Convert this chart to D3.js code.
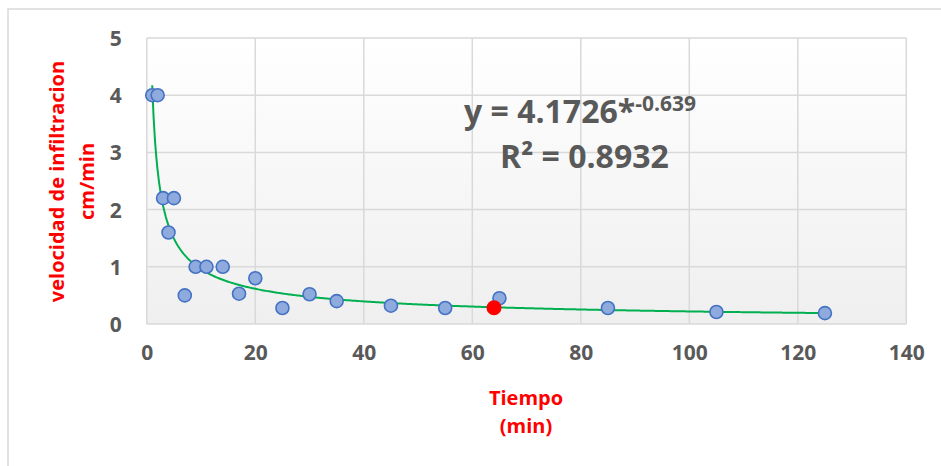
<!DOCTYPE html>
<html>
<head>
<meta charset="utf-8">
<script src="https://cdn.jsdelivr.net/npm/d3@7"></script>
<style>
  body { margin: 0; background: #fff; }
  svg text { font-family: "Open Sans", sans-serif; font-weight: bold; }
</style>
</head>
<body>
<svg id="chart" width="941" height="466"></svg>
<script>
// measured points (tiempo in min, velocidad in cm/min)
var tiempo = [1, 2, 3, 4, 5, 7, 9, 11, 14, 17, 20, 25, 30, 35, 45, 55, 65, 85, 105, 125];
var velocidad = [4, 4, 2.2, 1.6, 2.2, 0.5, 1, 1, 1, 0.53, 0.8, 0.28, 0.52, 0.4, 0.32, 0.28, 0.45, 0.28, 0.21, 0.19];
// highlighted point
var puntoRojo = [64, 0.285];
// potential trendline shown on the chart
var coefA = 4.1726, coefB = -0.639, trendRange = [1, 125];
var xTicks = [0, 20, 40, 60, 80, 100, 120, 140];
var yTicks = [0, 1, 2, 3, 4, 5];

(function () {
    "use strict";
    var svg = d3.select("#chart"),
        x = d3.scaleLinear().domain([0, 140]).range([146.8, 906.3]),
        y = d3.scaleLinear().domain([0, 5]).range([324, 38]),
        grey = "#595959",
        gridCol = "#d9d9d9";

    // outer chart frame (cut off at right/bottom like the picture)
    svg.append("rect")
        .attr("x", 8).attr("y", 9).attr("width", 1000).attr("height", 600)
        .attr("fill", "none").attr("stroke", gridCol).attr("stroke-width", 1.5);

    // plot area background gradient
    var grad = svg.append("defs").append("linearGradient")
        .attr("id", "bg").attr("x1", 0).attr("y1", 0).attr("x2", 0).attr("y2", 1);
    grad.append("stop").attr("offset", "0%").attr("stop-color", "#ffffff");
    grad.append("stop").attr("offset", "100%").attr("stop-color", "#efefef");

    svg.append("rect")
        .attr("x", x(0)).attr("y", y(5))
        .attr("width", x(140) - x(0)).attr("height", y(0) - y(5))
        .attr("fill", "url(#bg)");

    //grid lines
    svg.append("g").selectAll("line").data(xTicks).enter().append("line")
        .attr("x1", function (d) { return x(d); })
        .attr("x2", function (d) { return x(d); })
        .attr("y1", y(0)).attr("y2", y(5))
        .attr("stroke", gridCol).attr("stroke-width", 1.5);
    svg.append("g").selectAll("line").data(yTicks).enter().append("line")
        .attr("y1", function (d) { return y(d); })
        .attr("y2", function (d) { return y(d); })
        .attr("x1", x(0)).attr("x2", x(140))
        .attr("stroke", gridCol).attr("stroke-width", 1.5);

    // axes with d3 axis, lines hidden
    var xAxis = svg.append("g")
        .attr("transform", "translate(0," + (y(0) + 20) + ")")
        .call(d3.axisBottom(x).tickValues(xTicks).tickFormat(d3.format("d")).tickSize(0).tickPadding(0));
    var yAxis = svg.append("g")
        .attr("transform", "translate(" + (x(0) - 25) + ",0)")
        .call(d3.axisLeft(y).tickValues(yTicks).tickFormat(d3.format("d")).tickSize(0).tickPadding(0));
    [xAxis, yAxis].forEach(function (ax) {
        ax.select(".domain").remove();
        ax.selectAll("text")
            .attr("fill", grey)
            .style("font-size", "21px")
            .style("font-family", "'Open Sans', sans-serif")
            .style("font-weight", "bold");
    });
    xAxis.selectAll("text").attr("dy", "0.75em");
    yAxis.selectAll("text").attr("dy", "0.36em");

    // trendline
    var trendData = d3.range(trendRange[0], trendRange[1] + 0.01, 0.25).map(function (t) {
        return [t, coefA * Math.pow(t, coefB)];
    });
    svg.append("path")
        .datum(trendData)
        .attr("fill", "none")
        .attr("stroke", "#00b050")
        .attr("stroke-width", 2)
        .attr("d", d3.line()
            .x(function (d) { return x(d[0]); })
            .y(function (d) { return y(d[1]); }));

    // points
    svg.append("g").selectAll("circle").data(tiempo).enter().append("circle")
        .attr("cx", function (d) { return x(d); })
        .attr("cy", function (d, i) { return y(velocidad[i]); })
        .attr("r", 6.5)
        .attr("fill", "#8faadc")
        .attr("stroke", "#4472c4")
        .attr("stroke-width", 1.6);

    svg.append("circle")
        .attr("cx", x(puntoRojo[0]))
        .attr("cy", y(puntoRojo[1]))
        .attr("r", 7.5)
        .attr("fill", "#ff0000");

    // equation label
    var eq = svg.append("text")
        .attr("x", 464).attr("y", 123)
        .attr("fill", grey)
        .style("font-size", "32px");
    eq.append("tspan").text("y = 4.1726*");
    eq.append("tspan").attr("dy", -12).style("font-size", "21px").text("-0.639");

    svg.append("text")
        .attr("x", 500).attr("y", 168)
        .attr("fill", grey)
        .style("font-size", "32px")
        .text("R² = 0.8932");

    // axis titles
    svg.append("text")
        .attr("x", 526).attr("y", 405)
        .attr("text-anchor", "middle")
        .attr("fill", "#ff0000")
        .style("font-size", "20px")
        .text("Tiempo");
    svg.append("text")
        .attr("x", 526).attr("y", 433)
        .attr("text-anchor", "middle")
        .attr("fill", "#ff0000")
        .style("font-size", "20px")
        .text("(min)");

    svg.append("text")
        .attr("transform", "translate(64,181.5) rotate(-90)")
        .attr("text-anchor", "middle")
        .attr("fill", "#ff0000")
        .style("font-size", "20px")
        .text("velocidad de infiltracion");
    svg.append("text")
        .attr("transform", "translate(94,181.5) rotate(-90)")
        .attr("text-anchor", "middle")
        .attr("fill", "#ff0000")
        .style("font-size", "20px")
        .text("cm/min");
}());
</script>
</body>
</html>
